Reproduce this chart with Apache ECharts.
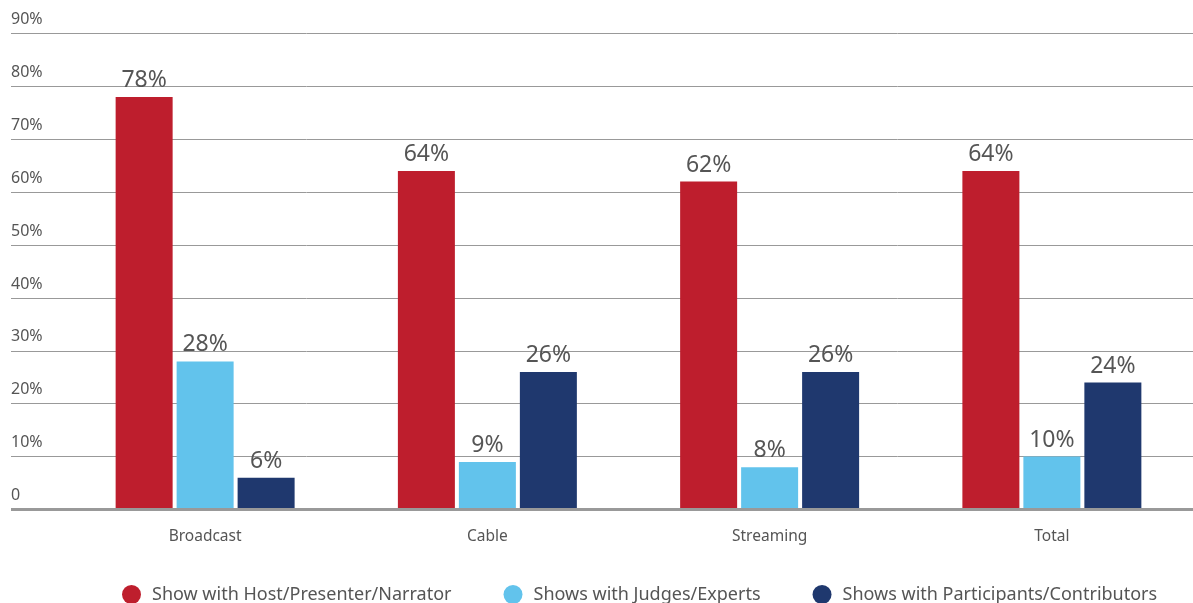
<!DOCTYPE html>
<html><head><meta charset="utf-8">
<script src="https://cdn.jsdelivr.net/npm/echarts@6/dist/echarts.min.js"></script>
<style>html,body{margin:0;padding:0;background:#fff}#c{width:1193px;height:603px}</style>
</head><body><div id="c"></div>
<script>
const categories = ['Broadcast', 'Cable', 'Streaming', 'Total'];
const seriesNames = ['Show with Host/Presenter/Narrator', 'Shows with Judges/Experts', 'Shows with Participants/Contributors'];
const hostValues = [78, 64, 62, 64];
const judgesValues = [28, 9, 8, 10];
const participantsValues = [6, 26, 26, 24];
const yTicks = [0, 10, 20, 30, 40, 50, 60, 70, 80, 90];

const colors = ['#BE1E2D', '#62C3EC', '#1F386E'];
const FONT = 'Noto Sans';
const chart = echarts.init(document.getElementById('c'));
const labelCfg = {show: true, position: 'top', distance: 5, formatter: p => p.value + '%', color: '#555', fontSize: 23, fontFamily: FONT};
function bar(name, data, color) {
  return {name, type: 'bar', xAxisIndex: 1, yAxisIndex: 1, data, barWidth: 57, barGap: '7%',
    itemStyle: {color}, label: labelCfg};
}
chart.setOption({
  animation: false,
  grid: [
    {left: 11, right: 0, top: 33.5, bottom: 93.5},
    {left: 64, right: 0, top: 33.5, bottom: 93.5}
  ],
  legend: {
    top: 580, left: 117, icon: 'circle', itemWidth: 19, itemHeight: 19, itemGap: 52,
    textStyle: {color: '#555', fontSize: 18, fontFamily: FONT, padding: [0, 0, 0, 6]},
    data: seriesNames
  },
  xAxis: [
    {type: 'category', gridIndex: 0, data: categories, show: false},
    {type: 'category', gridIndex: 1, data: categories,
      axisLine: {show: false}, axisTick: {show: false},
      axisLabel: {color: '#555', fontSize: 15.5, fontFamily: FONT, margin: 19}}
  ],
  yAxis: [
    {type: 'value', gridIndex: 0, min: 0, max: 90, interval: 10,
      axisLine: {show: false}, axisTick: {show: false},
      splitLine: {lineStyle: {color: '#999', width: 1}},
      axisLabel: {inside: true, margin: 0, verticalAlign: 'bottom', padding: [0, 0, 6, 0],
        color: '#555', fontSize: 16, fontFamily: FONT,
        formatter: v => yTicks.includes(v) ? (v === 0 ? '0' : v + '%') : ''}},
    {type: 'value', gridIndex: 1, min: 0, max: 90, interval: 10, show: false}
  ],
  series: [
    bar(seriesNames[0], hostValues, colors[0]),
    bar(seriesNames[1], judgesValues, colors[1]),
    bar(seriesNames[2], participantsValues, colors[2]),
    {type: 'line', xAxisIndex: 0, yAxisIndex: 0, data: [], silent: true,
      markLine: {symbol: 'none', silent: true, label: {show: false},
        lineStyle: {color: '#999', width: 3, type: 'solid'}, data: [{yAxis: 0}]}}
  ]
});
</script></body></html>
